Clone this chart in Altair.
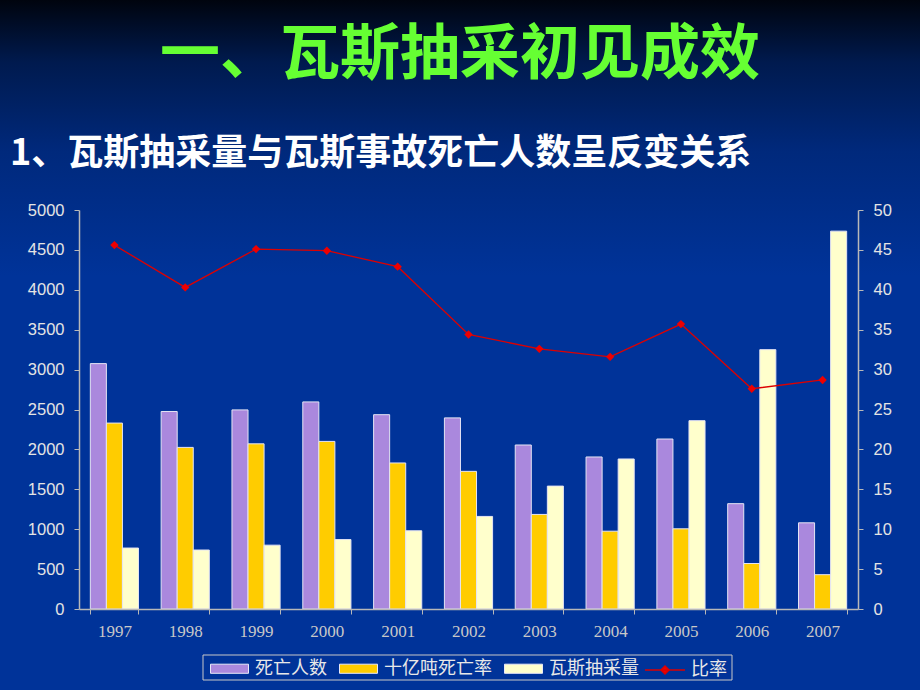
import altair as alt
import pandas as pd

# ---- data ----
years = ["1997", "1998", "1999", "2000", "2001", "2002", "2003", "2004", "2005", "2006", "2007"]
deaths = [3075, 2475, 2495, 2595, 2435, 2395, 2055, 1905, 2130, 1320, 1080]          # 死亡人数 (left axis)
death_rate = [2330, 2025, 2070, 2100, 1830, 1725, 1185, 975, 1005, 570, 430]        # 十亿吨死亡率 (left axis)
drainage = [7.64, 7.39, 8.0, 8.7, 9.8, 11.6, 15.4, 18.8, 23.6, 32.5, 47.35]        # 瓦斯抽采量 (right axis)
ratio = [45.6, 40.3, 45.1, 44.9, 42.9, 34.4, 32.6, 31.6, 35.7, 27.6, 28.7]          # 比率 (right axis)

bar_series = ["死亡人数", "十亿吨死亡率", "瓦斯抽采量"]
bar_colors = ["#aa88dd", "#ffcc00", "#ffffcc"]
line_series = ["比率"]
line_color = ["#ee0000"]
left_ticks = [0, 500, 1000, 1500, 2000, 2500, 3000, 3500, 4000, 4500, 5000]
right_ticks = [0, 5, 10, 15, 20, 25, 30, 35, 40, 45, 50]

main_title = "一、瓦斯抽采初见成效"
sub_title = "1、瓦斯抽采量与瓦斯事故死亡人数呈反变关系"

# ---- tables ----
rows = []
for i, y in enumerate(years):
    rows.append({"year": y, "series": bar_series[0], "value": deaths[i]})
    rows.append({"year": y, "series": bar_series[1], "value": death_rate[i]})
    rows.append({"year": y, "series": bar_series[2], "value": drainage[i] * 100})  # right axis = left / 100
bars_df = pd.DataFrame(rows)
line_df = pd.DataFrame({"year": years, "ratio": ratio, "s": line_series * len(years)})
one = pd.DataFrame({"t": [""]})
title_df = pd.DataFrame({"t": [main_title]})
sub_df = pd.DataFrame({"t": [sub_title]})

W, H = 779, 399
PL, PT, PR, PB = 79, 210, 62, 81

CJK = "Noto Sans CJK SC"
AX = "#b8b8b8"

bg = alt.Chart(one).mark_rect(
    fill=alt.LinearGradient(
        gradient="linear", x1=0, x2=0, y1=0, y2=1,
        stops=[
            alt.GradientStop(offset=0, color="#00040e"),
            alt.GradientStop(offset=0.09, color="#001a4e"),
            alt.GradientStop(offset=0.22, color="#00297c"),
            alt.GradientStop(offset=0.40, color="#003399"),
            alt.GradientStop(offset=1, color="#003399"),
        ],
    )
).encode(x=alt.value(-PL), x2=alt.value(W + PR), y=alt.value(-PT), y2=alt.value(H + PB))

legend_box = alt.Chart(one).mark_rect(fill=None, stroke="#c8c8c8", strokeWidth=1).encode(
    x=alt.value(203 - PL), x2=alt.value(732 - PL), y=alt.value(655 - PT), y2=alt.value(680 - PT)
)

def txt(df, size, color, weight, x, y, align):
    return alt.Chart(df).mark_text(
        font=CJK, fontSize=size, fontWeight=weight, color=color, align=align, baseline="middle"
    ).encode(text="t:N", x=alt.value(x), y=alt.value(y))

title_t = txt(title_df, 60, "#66ff33", "bold", 460 - PL, 56 - PT, "center")
sub_t = txt(sub_df, 36, "#ffffff", "bold", 10 - PL, 154 - PT, "left")

rect_path = "M-1,-0.24H1V0.24H-1Z"
line_path = "M-1,0H1M0,-0.2L0.2,0L0,0.2L-0.2,0Z"

x_enc = alt.X(
    "year:N", sort=years, title=None,
    scale=alt.Scale(paddingInner=0.32, paddingOuter=0.16),
    axis=alt.Axis(
        labelAngle=0, labelFont="Liberation Serif", labelFontSize=17, labelColor="#c8c8c8",
        labelPadding=9, tickSize=5, tickColor=AX, domainColor=AX,
        domainWidth=1.5, tickBand="extent", grid=False, zindex=2,
    ),
)

bars = alt.Chart(bars_df).mark_bar(stroke="#e4e4f4", strokeWidth=1).encode(
    x=x_enc,
    xOffset=alt.XOffset("series:N", sort=bar_series, scale=alt.Scale(domain=bar_series)),
    y=alt.Y(
        "value:Q", title=None, scale=alt.Scale(domain=[0, 5000], nice=False),
        axis=alt.Axis(
            orient="left", values=left_ticks, format="d", labelFont="Liberation Sans",
            labelFontSize=16.5, labelColor="#e4e4e4", labelPadding=10, tickSize=5, tickColor=AX,
            domainColor=AX, domainWidth=1.5, grid=False, zindex=2,
        ),
    ),
    color=alt.Color(
        "series:N", scale=alt.Scale(domain=bar_series, range=bar_colors),
        legend=alt.Legend(
            orient="none", legendX=210 - PL, legendY=439, direction="horizontal", title=None,
            padding=0, symbolSize=1444, symbolType=rect_path,
            symbolStrokeWidth=1, symbolStrokeColor="#e8e8f8", labelFont=CJK, labelFontSize=18,
            labelColor="#e8e8e8", labelOffset=6, columnPadding=10, zindex=3,
        ),
    ),
)

y_right = alt.Y(
    "ratio:Q", title=None, scale=alt.Scale(domain=[0, 50], nice=False),
    axis=alt.Axis(
        orient="right", values=right_ticks, format="d", labelFont="Liberation Sans",
        labelFontSize=16.5, labelColor="#e4e4e4", labelPadding=10, tickSize=5, tickColor=AX,
        domainColor=AX, domainWidth=1.5, grid=False, zindex=2,
    ),
)

line = alt.Chart(line_df).mark_line(color="#dd0000", strokeWidth=1.3).encode(
    x=alt.X("year:N", sort=years), y=y_right
)
pts = alt.Chart(line_df).mark_point(shape="diamond", filled=True, size=70, opacity=1).encode(
    x=alt.X("year:N", sort=years),
    y=alt.Y("ratio:Q", scale=alt.Scale(domain=[0, 50], nice=False), axis=None),
    fill=alt.Fill(
        "s:N", scale=alt.Scale(domain=line_series, range=line_color),
        legend=alt.Legend(
            orient="none", legendX=644 - PL, legendY=439, direction="horizontal", title=None,
            padding=0, symbolSize=1600, symbolType=line_path, symbolStrokeColor="#dd0000",
            symbolStrokeWidth=1.5, labelFont=CJK, labelFontSize=18, labelColor="#e8e8e8",
            labelOffset=5, zindex=3,
        ),
    ),
)

chart = alt.layer(bg, title_t, sub_t, legend_box, bars, line, pts).resolve_scale(
    y="independent"
).properties(
    width=W, height=H,
    autosize=alt.AutoSizeParams(type="none"),
    padding={"left": PL, "top": PT, "right": PR, "bottom": PB},
    background="#003399",
).configure_view(stroke=None)

chart.save("out.html", embed_options={"renderer": "svg", "actions": False})
